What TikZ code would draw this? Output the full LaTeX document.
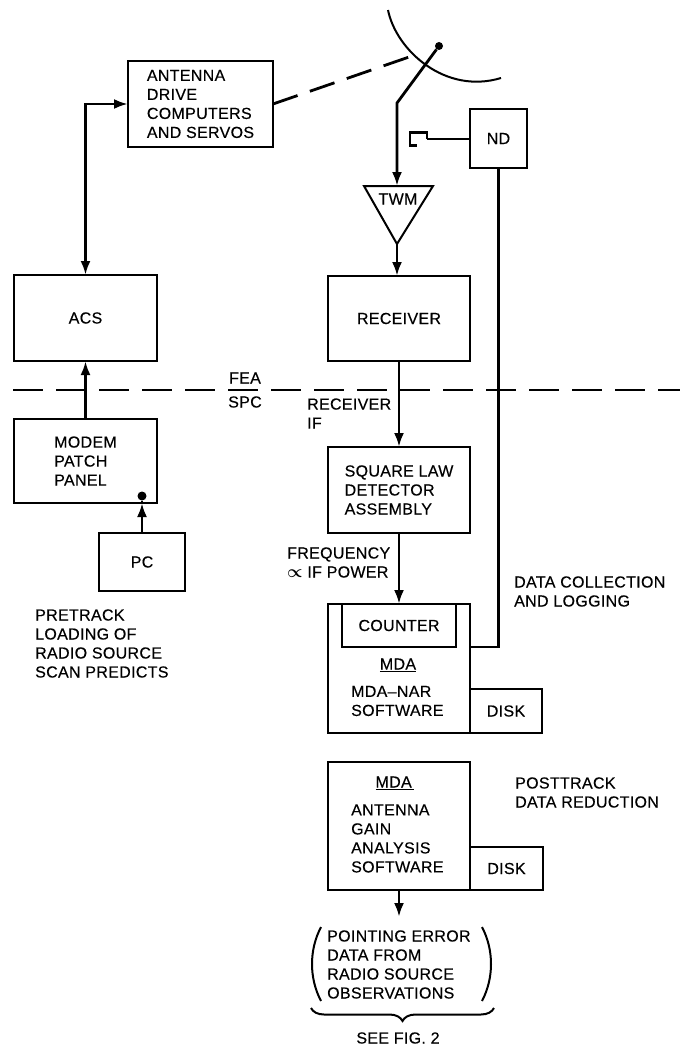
\documentclass[tikz,border=0pt]{standalone}
\usepackage{bm}
\usepackage{fontspec}
\setmainfont[LetterSpace=2,FakeBold=0.35]{Liberation Sans}
\usepackage{tikz}
\usetikzlibrary{arrows.meta, positioning, calc, decorations.pathreplacing}

\tikzset{
    blockbox/.style={draw, line width=2pt, inner sep=0pt, outer sep=0pt, align=left},
    caption/.style={inner sep=0pt, align=left, anchor=west},
    wire/.style={line width=2.8pt},
    thinwire/.style={line width=2pt}
}

\begin{document}
\begin{tikzpicture}[x=1pt, y=-1pt, >={Latex[length=14pt,width=10pt]},
        font=\fontsize{16}{19}\selectfont]
        \useasboundingbox (0,0) rectangle (680,1049);

        \node (ACS) [blockbox, minimum width=143pt, minimum height=86pt] at (85.5,318) {ACS};
        \node (MODEM) [blockbox, minimum width=143pt, minimum height=84pt, below=58pt of ACS] {MODEM\\PATCH\\PANEL};
        \node (PC) [blockbox, minimum width=86pt, minimum height=58pt] at (142,562) {PC};
        \node (DRIVE) [blockbox, minimum width=145pt, minimum height=86pt] at (200.5,104) {ANTENNA\\DRIVE\\COMPUTERS\\AND SERVOS};
        \node (ND) [blockbox, minimum width=57pt, minimum height=59pt] at (498.5,138.5) {ND};
        \node (RX) [blockbox, minimum width=142pt, minimum height=85pt] at (399,318.5) {RECEIVER};
        \node (SLD) [blockbox, minimum width=142pt, minimum height=86pt, below=86pt of RX] {SQUARE LAW\\DETECTOR\\ASSEMBLY};
        \node (NAR) [blockbox, minimum width=142pt, minimum height=129pt, below=71pt of SLD] {};
        \node (COUNT) [blockbox, minimum width=114pt, minimum height=43pt, below=0pt of NAR.north] {COUNTER};
        \node (DISK1) [blockbox, minimum width=72pt, minimum height=44pt, anchor=south west] at (NAR.south east) {DISK};
        \node (GAIN) [blockbox, minimum width=142pt, minimum height=128pt, below=29pt of NAR] {};
        \node (DISK2) [blockbox, minimum width=73pt, minimum height=43pt, anchor=south west] at (GAIN.south east) {DISK};

        \node (MDA1) at (398,665) [inner sep=0pt] {\underline{MDA}};
        \node (NARtext) [caption] at (351,701) {MDA--NAR\\SOFTWARE};
        \node (MDA2) at (395,783) [inner sep=0pt] {\underline{MDA\,}};
        \node (GAINtext) [caption] at (351,838.5) {ANTENNA\\GAIN\\ANALYSIS\\SOFTWARE};

        \node (FEA) [inner sep=0pt] at (245,378) {FEA};
        \node (SPC) [inner sep=0pt] at (245,402) {SPC};
        \node (RXIF) [caption] at (307,413.5) {RECEIVER\\IF};
        \node (FREQ) [caption] at (287,562.5) {FREQUENCY\\$\bm{\propto}$ IF POWER};
        \node (COLLECT) [caption] at (514,591.5) {DATA COLLECTION\\AND LOGGING};
        \node (POST) [caption] at (515,792.5) {POSTTRACK\\DATA REDUCTION};
        \node (PRE) [caption] at (35,643.5) {PRETRACK\\LOADING OF\\RADIO SOURCE\\SCAN PREDICTS};
        \node (POINT) [caption] at (327,964.5) {POINTING ERROR\\DATA FROM\\RADIO SOURCE\\OBSERVATIONS};
        \node (SEE) [inner sep=0pt] at (398,1038) {SEE FIG. 2};

        % dish and feed
        \coordinate (DISHa) at (388,10);
        \coordinate (DISHb) at (501,78);
        \coordinate (BEND) at (397,103);
        \coordinate (TIPA) at (412,56);
        \node (FEED) [circle, fill, inner sep=0pt, minimum size=8pt] at (439,46) {};
        \draw[thinwire] (DISHa) .. controls (396,50) and (445,95) .. (DISHb);

        % maser
        \coordinate (TWMl) at (364,186);
        \coordinate (TWMr) at (433,186);
        \coordinate (TWMt) at (397,244);
        \coordinate (TWMin) at (397,186);
        \node (TWM) [inner sep=0pt] at (398,199) {TWM};
        \draw[thinwire, line join=miter] (TWMl) -- (TWMr) -- (TWMt) -- cycle;

        \draw[->, wire] (FEED) -- (BEND) -- (TWMin);
        \draw[->, wire] (TWMt) -- (TWMt |- RX.north);
        \draw[wire, dash pattern=on 26pt off 13pt] (DRIVE.east) -- (TIPA);
        \draw[<->, wire] (DRIVE.west) -| (ACS.north);
        \draw[->, wire] (MODEM.north) -- (ACS.south);
        \draw[->, wire] (RX.south) -- (SLD.north);
        \draw[->, wire] (SLD.south) -- (NAR.north);

        % noise diode coupling
        \coordinate (HOOK) at (427,138.5);
        \draw[thinwire] (ND.west) -- (HOOK);
        \draw[wire, line join=miter] (HOOK) -- ++(0,-6) -- ++(-17,0) -- ++(0,13) -- ++(7,0);

        \coordinate (TAP) at (NAR.east |- COUNT.south);
        \draw[wire] (ND.south) |- (TAP);

        % patch panel jack
        \node (JACK) [circle, fill, inner sep=0pt, minimum size=9pt] at (142,496) {};
        \coordinate (JACKin) at (142,503);
        \draw[->, wire] (PC.north) -- (JACKin);
        \draw[wire] (JACKin) -- (JACK);

        % site boundary
        \coordinate (SEPl) at (13,390);
        \coordinate (SEPr) at (680,390);
        \draw[wire, dash pattern=on 30pt off 13pt] (SEPl) -- (SEPr);

        % result block
        \coordinate (OUT) at (GAIN.south |- 0,917);
        \draw[->, wire] (GAIN.south) -- (OUT);
        \draw[thinwire] (321,927) .. controls (309,950) and (309,978) .. (321,1001);
        \draw[thinwire] (482,927) .. controls (494,950) and (494,978) .. (482,1001);
        \draw[thinwire, decorate, decoration={brace, mirror, amplitude=13pt}] (311,1008) -- (494,1008);
    \end{tikzpicture}
\end{document}
